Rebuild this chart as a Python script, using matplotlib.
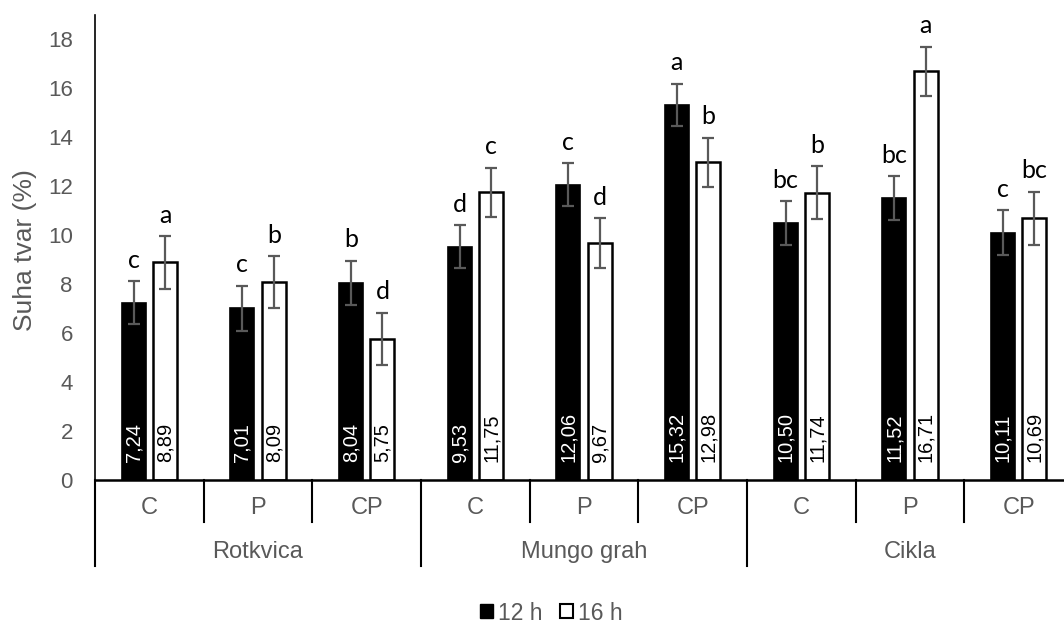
import numpy as np
import matplotlib.pyplot as plt
from matplotlib.patches import Patch

# podaci
skupine = ["Rotkvica", "Mungo grah", "Cikla"]
tretmani = ["C", "P", "CP"]
h12 = [7.24, 7.01, 8.04, 9.53, 12.06, 15.32, 10.50, 11.52, 10.11]
h16 = [8.89, 8.09, 5.75, 11.75, 9.67, 12.98, 11.74, 16.71, 10.69]
err12 = [0.88, 0.91, 0.90, 0.87, 0.88, 0.87, 0.89, 0.89, 0.91]
err16 = [1.07, 1.05, 1.07, 1.01, 1.02, 1.00, 1.08, 1.00, 1.07]
slova12 = ["c", "c", "b", "d", "c", "a", "bc", "bc", "c"]
slova16 = ["a", "b", "d", "c", "d", "b", "b", "a", "bc"]

siva = "#595959"
plt.rcParams['font.family'] = ['Liberation Sans', 'DejaVu Sans']

fig = plt.figure(figsize=(10.64, 6.26), dpi=100)
W, H = 1064, 626
ax = fig.add_axes([95 / W, 1 - 480 / H, (1073 - 95) / W, (480 - 15) / H])

n = len(h12)
x = np.arange(n) + 0.5
sirina = 0.22
x1 = x - 0.145
x2 = x + 0.145

ax.bar(x1, h12, sirina, color="black", edgecolor="black", linewidth=1.2, zorder=2)
ax.bar(x2, h16, sirina, color="white", edgecolor="black", linewidth=1.8, zorder=2)
ax.errorbar(x1, h12, yerr=err12, fmt="none", ecolor=siva, elinewidth=1.6,
            capsize=4.5, capthick=1.6, zorder=3)
ax.errorbar(x2, h16, yerr=err16, fmt="none", ecolor=siva, elinewidth=1.6,
            capsize=4.5, capthick=1.6, zorder=3)

for i in range(n):
    for xx, v, e, s, c in [(x1[i], h12[i], err12[i], slova12[i], "white"),
                           (x2[i], h16[i], err16[i], slova16[i], "black")]:
        ax.annotate(f"{v:.2f}".replace(".", ","), (xx, 0), xytext=(0, 13),
                    textcoords="offset points", rotation=90, ha="center",
                    va="bottom", color=c, fontsize=14.5, zorder=4)
        ax.annotate(s, (xx, v + e), xytext=(0, 7), textcoords="offset points",
                    ha="center", va="bottom", color="black", fontsize=18,
                    family=["Lato", "DejaVu Sans"])

ax.set_xlim(0, 9)
ax.set_ylim(0, 19)
ax.set_yticks(np.arange(0, 19, 2))
ax.tick_params(axis="y", length=0, pad=16, labelsize=16, labelcolor=siva)
ax.set_xticks([])
for s in ["top", "right"]:
    ax.spines[s].set_visible(False)
ax.spines["left"].set_color("black")
ax.spines["bottom"].set_color("black")
ax.spines["left"].set_linewidth(1.2)
ax.spines["bottom"].set_linewidth(1.8)

# hijerarhijska os x
trans = ax.get_xaxis_transform()
y_sub = -(522 - 480) / 465
y_grp = -(566 - 480) / 465
for k in range(10):
    kraj = y_grp if k % 3 == 0 else y_sub
    ax.plot([k, k], [0, kraj], color="black", lw=1.5, transform=trans,
            clip_on=False)
for i in range(n):
    ax.text(x[i], -(508 - 480) / 465, tretmani[i % 3], transform=trans,
            ha="center", va="center", fontsize=17, color=siva)
for g in range(3):
    ax.text(3 * g + 1.5, -(552 - 480) / 465, skupine[g], transform=trans,
            ha="center", va="center", fontsize=17, color=siva)

fig.text(25 / W, 1 - 250 / H, "Suha tvar (%)", rotation=90, ha="center",
         va="center", fontsize=19, color=siva)

rucke = [Patch(facecolor="black", edgecolor="black", label="12 h"),
         Patch(facecolor="white", edgecolor="black", linewidth=1.5, label="16 h")]
leg = fig.legend(handles=rucke, loc="center", bbox_to_anchor=(551 / W, 1 - 613 / H),
                 ncol=2, frameon=False, fontsize=16.5, handlelength=0.57,
                 handleheight=0.57, handletextpad=0.22, columnspacing=0.75)
for t in leg.get_texts():
    t.set_color(siva)

fig.savefig("out.png", dpi=100)
